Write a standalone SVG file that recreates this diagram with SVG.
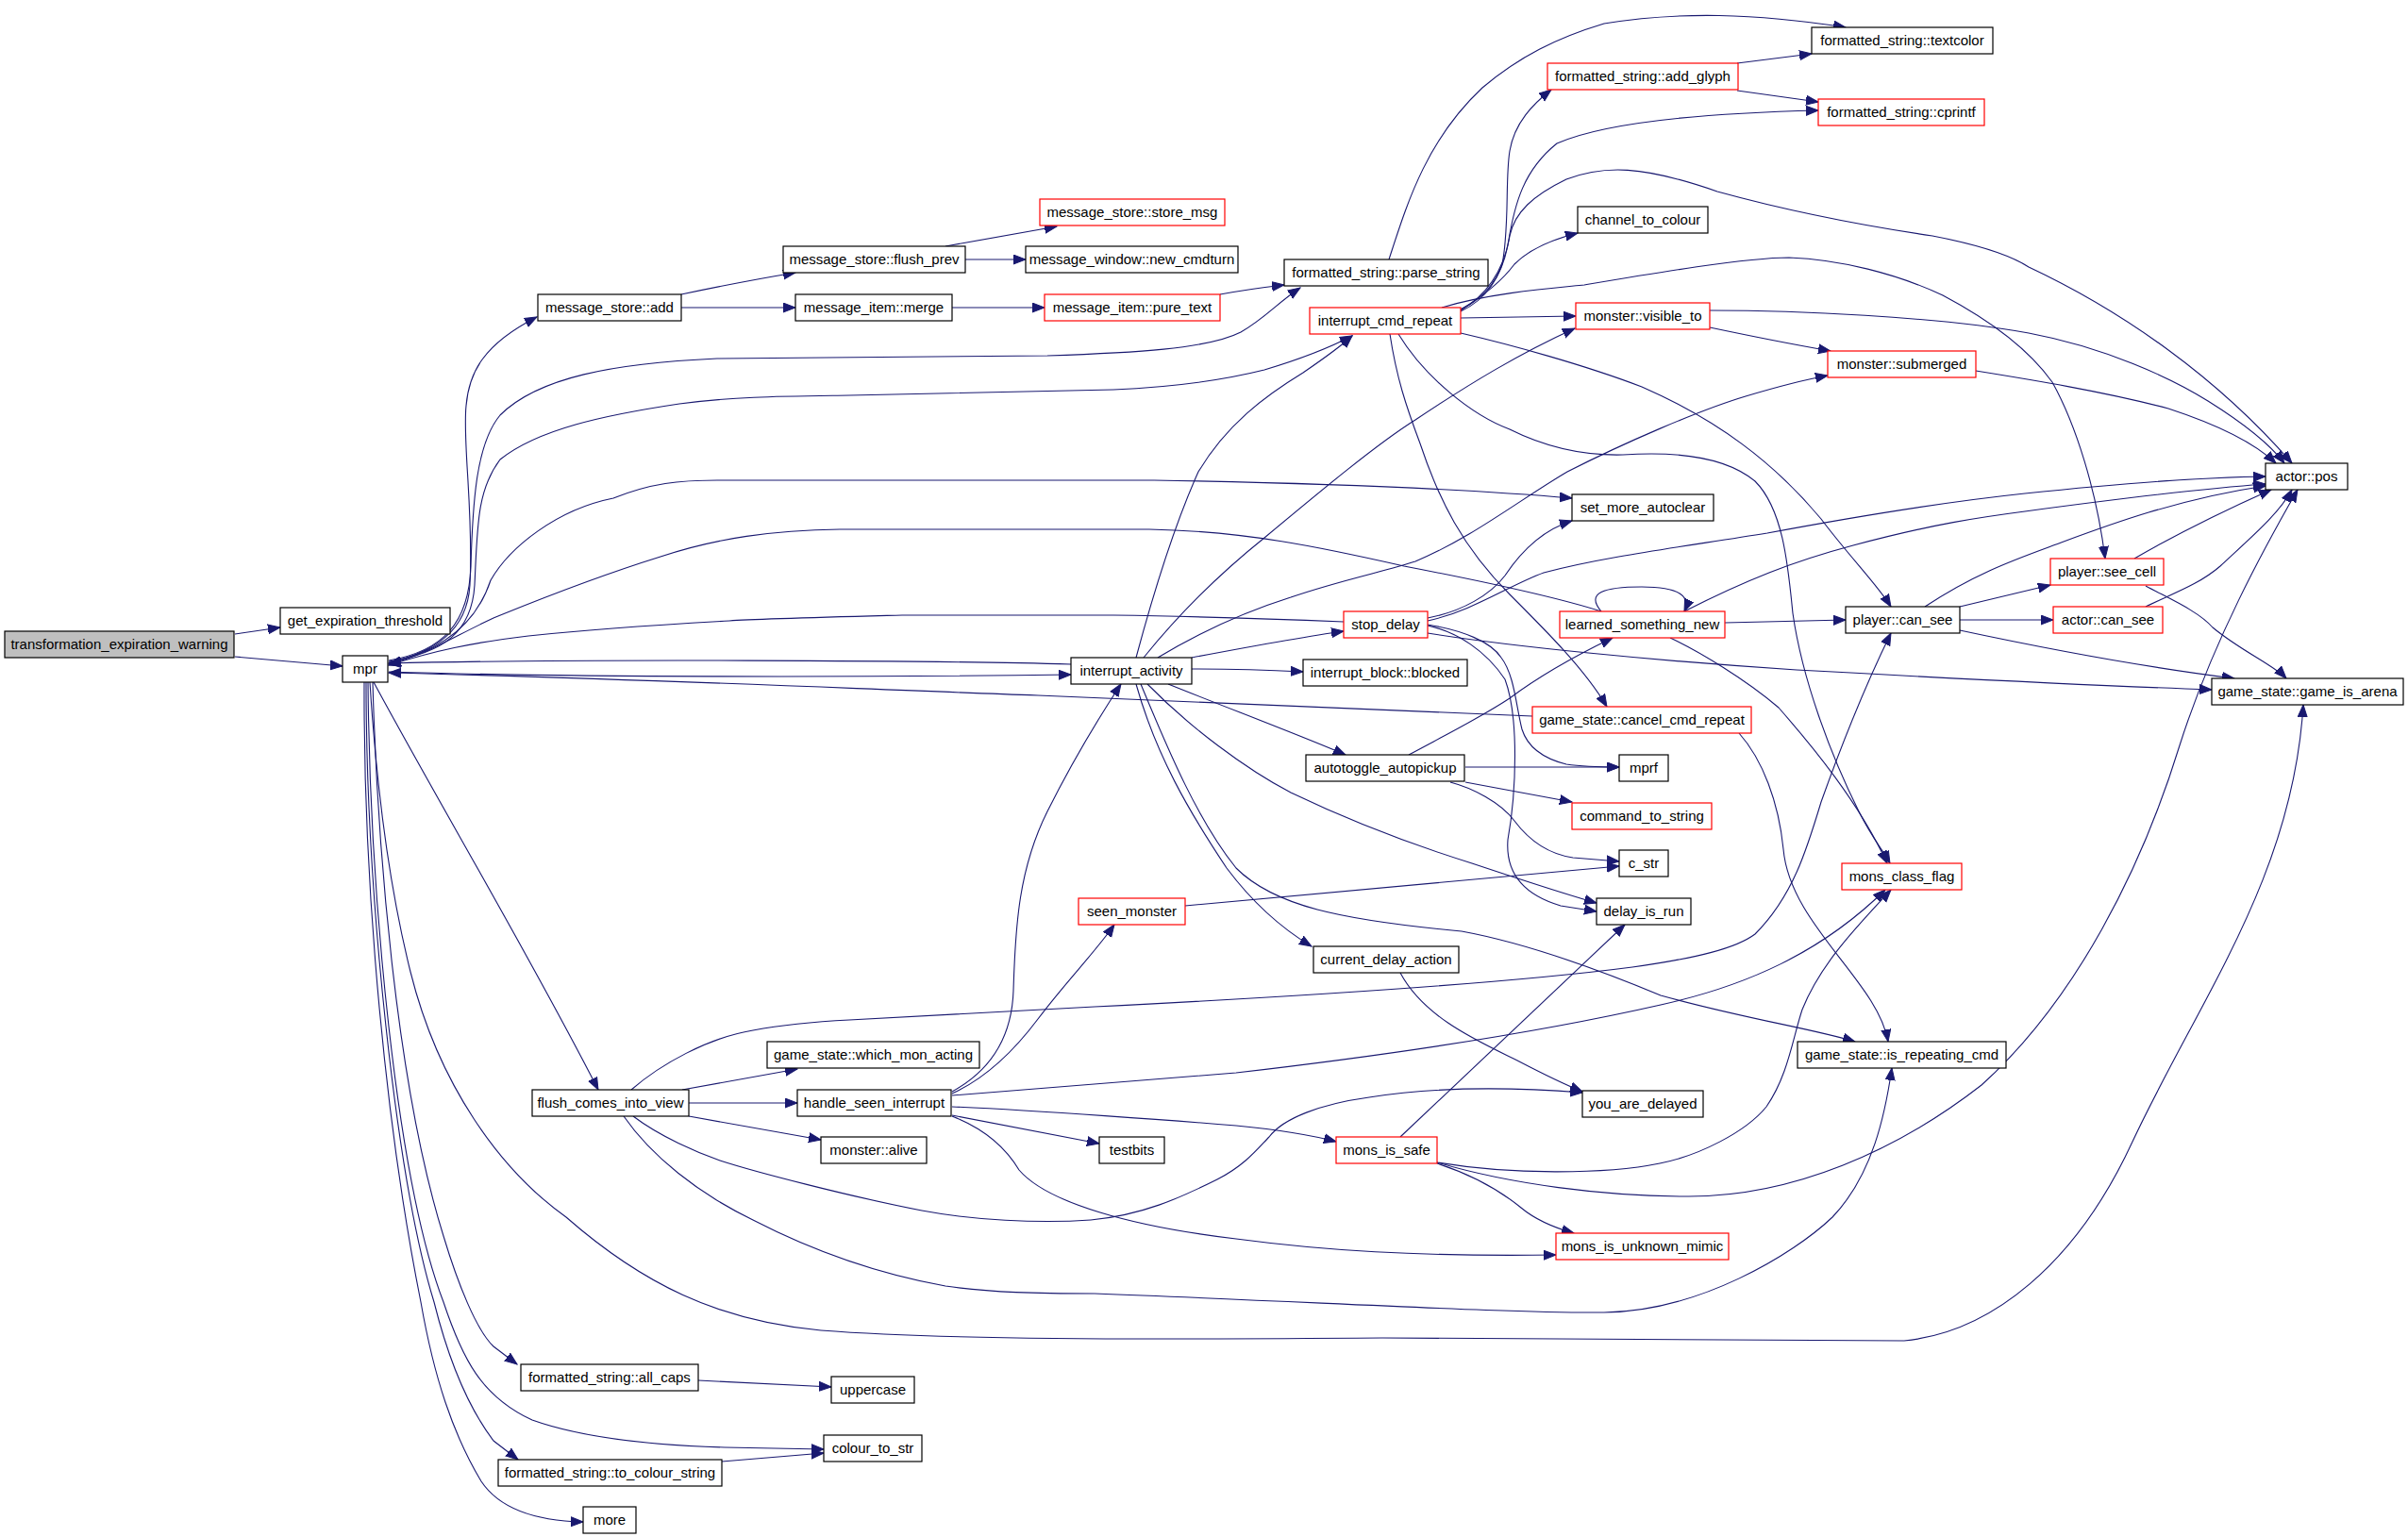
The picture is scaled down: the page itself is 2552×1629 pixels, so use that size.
<svg xmlns="http://www.w3.org/2000/svg" width="2552" height="1629" viewBox="0 0 2552 1629">
<style>
.n rect{fill:#fff;stroke:#000;stroke-width:1.2}
.r rect{fill:#fff;stroke:#ff0000;stroke-width:1.2}
.g rect{fill:#bfbfbf;stroke:#000;stroke-width:1.2}
text{font-family:"Liberation Sans",Arial,sans-serif;font-size:15px;fill:#000;text-anchor:middle}
#edges path{fill:none;stroke:#191970;stroke-width:1.1;marker-end:url(#a)}
</style>
<defs>
<marker id="a" markerUnits="userSpaceOnUse" markerWidth="15" markerHeight="12" refX="13" refY="5.5" orient="auto">
<path d="M0,0.5 L13,5.5 L0,10.5 z" fill="#191970" stroke="#191970" stroke-width="1"/>
</marker>
</defs>
<rect width="2552" height="1629" fill="#fff"/>
<g id="edges">
<path d="M249,672 L297,665"/>
<path d="M249,696 L363,706"/>
<path d="M412,703 C460,690 495,670 498,620 C502,540 490,470 494,430 C497,395 512,365 569,336"/>
<path d="M412,700 C470,690 497,660 499,600 C501,530 505,470 530,440 C570,400 650,385 760,380 L1110,377 C1200,374 1280,370 1315,352 C1340,338 1355,320 1378,305"/>
<path d="M412,701 C470,692 500,670 503,620 C506,560 505,520 530,487 C570,455 640,440 720,428 C780,420 830,420 900,419 L1180,413 C1250,410 1300,402 1340,392 C1380,380 1410,368 1433,356"/>
<path d="M412,702 C470,690 505,660 520,615 C540,580 590,540 650,528 C690,512 720,509 760,509 L1223,509 C1400,512 1550,518 1666,528"/>
<path d="M1697,648 C1640,630 1540,610 1488,600 C1400,580 1320,563 1218,561 L890,561 C820,562 760,570 700,590 C620,615 560,640 523,655 C480,675 450,695 412,704"/>
<path d="M1424,659 C1350,656 1250,653 1180,652 L956,652 C880,654 800,656 773,658 C700,662 615,668 560,674 C500,681 460,690 412,705"/>
<path d="M1135,704 C1000,700 600,698 412,703"/>
<path d="M412,712 C600,718 900,718 1135,715"/>
<path d="M1624,759 C1400,750 1200,740 1100,737 C900,730 700,720 412,713"/>
<path d="M396,723 C470,860 560,1010 634,1155"/>
<path d="M392,723 C400,850 415,950 435,1030 C465,1150 530,1240 600,1290 C680,1360 760,1400 870,1410 C1000,1420 1200,1420 1465,1418 L2018,1421 C2110,1412 2200,1340 2260,1210 C2330,1060 2430,930 2441,747"/>
<path d="M395,723 C400,900 420,1150 470,1310 C485,1360 505,1410 523,1427 L548,1446"/>
<path d="M390,723 C392,950 420,1250 470,1380 C490,1440 510,1480 564,1505 C620,1525 700,1532 768,1534 L873,1536"/>
<path d="M388,723 C388,950 420,1250 460,1380 C475,1440 495,1490 523,1527 L549,1547"/>
<path d="M386,723 C385,950 410,1200 446,1380 C460,1460 480,1520 510,1570 C530,1600 570,1612 618,1613"/>
<path d="M722,312 C760,304 800,296 843,289"/>
<path d="M722,326 L843,326"/>
<path d="M1009,326 L1107,326"/>
<path d="M1002,261 L1120,240"/>
<path d="M1023,275 L1087,275"/>
<path d="M1293,312 C1315,308 1335,305 1361,302"/>
<path d="M1472,275 C1490,220 1510,150 1571,93 C1610,60 1650,40 1700,25 C1780,12 1860,14 1956,29"/>
<path d="M1841,67 L1920,57"/>
<path d="M1841,96 L1927,108"/>
<path d="M1548,328 C1570,318 1585,300 1592,280 C1600,240 1595,190 1600,160 C1605,130 1625,110 1644,95"/>
<path d="M1548,330 C1570,320 1590,300 1598,260 C1605,215 1615,180 1650,152 C1700,130 1800,120 1927,117"/>
<path d="M1548,328 C1570,315 1590,300 1605,280 C1620,265 1640,255 1672,247"/>
<path d="M1548,329 C1580,310 1595,280 1600,250 C1605,225 1625,207 1660,190 C1700,175 1740,175 1820,203 C1900,225 1980,240 2048,250 C2100,260 2130,270 2150,283 C2250,330 2350,400 2429,491"/>
<path d="M1528,326 C1580,310 1650,305 1679,302 C1750,290 1850,273 1896,273 C1950,275 2010,290 2059,313 C2110,340 2150,370 2175,405 C2200,450 2222,520 2231,592"/>
<path d="M1548,337 L1670,335"/>
<path d="M1473,354 C1480,400 1490,430 1505,470 C1525,530 1550,580 1600,630 C1640,670 1680,710 1703,749"/>
<path d="M1482,354 C1510,400 1560,440 1600,455 C1640,475 1680,483 1720,482 C1780,478 1830,485 1860,510 C1890,540 1895,600 1900,650 C1910,720 1940,800 1970,860 C1985,890 1995,900 2003,915"/>
<path d="M1548,353 C1600,365 1680,387 1740,410 C1820,445 1880,490 1930,550 C1960,590 1990,620 2004,643"/>
<path d="M1812,347 C1850,355 1900,365 1940,372"/>
<path d="M1812,329 C1900,329 2050,335 2150,353 C2230,368 2300,400 2340,425 C2380,450 2405,470 2421,491"/>
<path d="M2094,393 C2150,402 2230,415 2298,433 C2350,450 2390,470 2412,491"/>
<path d="M1204,697 C1222,630 1243,560 1270,500 C1300,450 1340,420 1381,395 C1400,382 1420,368 1433,356"/>
<path d="M1212,697 C1250,650 1290,610 1340,570 C1400,520 1460,470 1500,445 C1560,405 1610,375 1669,348"/>
<path d="M1227,697 C1280,665 1330,645 1368,633 C1420,615 1470,605 1500,595 C1560,570 1610,530 1661,500 C1720,470 1800,435 1850,420 C1890,408 1915,402 1937,398"/>
<path d="M1263,697 C1300,690 1380,675 1424,669"/>
<path d="M1263,709 C1300,709 1340,710 1381,712"/>
<path d="M1238,725 C1300,750 1380,780 1426,800"/>
<path d="M1204,725 C1225,800 1260,860 1300,920 C1330,960 1360,985 1390,1003"/>
<path d="M1209,725 C1240,800 1270,870 1310,920 C1350,960 1420,975 1549,987 C1620,1000 1700,1030 1760,1055 C1850,1080 1920,1090 1966,1104"/>
<path d="M1216,725 C1260,770 1320,815 1368,840 C1420,865 1480,890 1560,915 C1620,935 1660,948 1692,957"/>
<path d="M1513,655 C1550,648 1580,630 1595,610 C1615,580 1640,560 1666,552"/>
<path d="M1513,658 C1560,648 1600,620 1636,607 C1700,590 1780,580 1873,565 C1980,545 2080,530 2146,523 C2250,512 2330,506 2401,505"/>
<path d="M1513,671 C1600,685 1750,700 1904,710 C2050,718 2200,726 2344,731"/>
<path d="M1513,662 C1550,668 1580,680 1591,697 C1605,715 1607,750 1613,773 C1620,795 1640,805 1660,810 C1680,813 1700,813 1716,813"/>
<path d="M1513,663 C1545,670 1575,690 1595,720 C1610,760 1607,840 1598,890 C1595,930 1620,950 1654,960 L1692,966"/>
<path d="M1697,648 C1680,628 1700,622 1740,622 C1780,622 1792,632 1785,648"/>
<path d="M1828,660 L1956,657"/>
<path d="M1785,648 C1850,615 1900,595 1964,578 C2050,555 2100,548 2146,542 C2250,528 2330,518 2401,513"/>
<path d="M1770,676 C1800,690 1850,720 1885,750 C1920,790 1970,850 2000,915"/>
<path d="M1493,800 C1530,780 1570,760 1600,740 C1640,710 1680,690 1709,676"/>
<path d="M1553,813 L1716,813"/>
<path d="M1553,829 L1666,850"/>
<path d="M1537,829 C1560,835 1590,850 1605,870 C1620,890 1640,905 1667,909 L1716,913"/>
<path d="M1843,777 C1868,805 1885,850 1890,900 C1897,980 1990,1040 2001,1104"/>
<path d="M2077,643 L2173,620"/>
<path d="M2077,657 L2176,657"/>
<path d="M2040,643 C2090,610 2130,595 2171,580 C2220,562 2300,530 2401,515"/>
<path d="M2077,668 C2180,690 2280,708 2368,719"/>
<path d="M2262,592 C2300,570 2360,540 2407,519"/>
<path d="M2274,621 C2300,635 2330,648 2345,665 C2375,690 2410,705 2423,719"/>
<path d="M2274,643 C2300,630 2330,620 2353,600 C2385,570 2415,545 2429,519"/>
<path d="M1523,1232 C1600,1255 1700,1268 1790,1268 C1900,1268 2010,1220 2100,1150 C2200,1060 2270,920 2310,790 C2345,680 2400,580 2435,519"/>
<path d="M1484,1205 L1722,980"/>
<path d="M1523,1232 C1600,1245 1700,1245 1759,1233 C1800,1225 1850,1200 1872,1173 C1895,1140 1900,1100 1910,1070 C1930,1020 1970,980 2004,943"/>
<path d="M1523,1233 C1560,1245 1590,1262 1612,1280 C1630,1295 1650,1302 1668,1307"/>
<path d="M1256,960 L1716,918"/>
<path d="M1484,1031 C1510,1080 1570,1105 1610,1125 C1635,1138 1655,1148 1677,1157"/>
<path d="M723,1155 L845,1133"/>
<path d="M730,1169 L845,1169"/>
<path d="M730,1183 L870,1208"/>
<path d="M669,1155 C700,1128 750,1100 798,1092 C830,1086 860,1083 900,1081 L1160,1067 C1400,1055 1600,1042 1730,1025 C1800,1015 1840,1005 1860,990 C1900,950 1915,900 1930,850 C1955,780 1980,720 2004,671"/>
<path d="M661,1183 C690,1225 740,1265 798,1293 C860,1325 930,1350 1002,1363 C1050,1370 1100,1371 1160,1371 C1400,1380 1600,1392 1700,1391 C1800,1390 1900,1330 1942,1290 C1985,1245 1998,1180 2005,1132"/>
<path d="M671,1183 C700,1205 740,1222 763,1230 C800,1242 900,1268 977,1283 C1030,1293 1100,1297 1156,1293 C1210,1288 1250,1270 1290,1250 C1320,1235 1335,1215 1345,1205 C1360,1185 1400,1170 1451,1163 C1520,1152 1600,1152 1677,1158"/>
<path d="M1009,1157 C1040,1140 1072,1110 1074,1050 C1076,980 1080,920 1110,860 C1140,800 1165,760 1188,725"/>
<path d="M1009,1159 C1040,1145 1070,1120 1100,1080 C1130,1040 1160,1010 1181,980"/>
<path d="M1009,1161 C1100,1153 1200,1146 1310,1137 C1500,1115 1650,1090 1760,1065 C1850,1045 1930,1010 1998,943"/>
<path d="M1009,1173 C1100,1177 1250,1188 1310,1193 C1350,1197 1390,1203 1416,1210"/>
<path d="M1009,1182 L1165,1212"/>
<path d="M1009,1183 C1040,1195 1065,1215 1080,1240 C1110,1275 1200,1300 1310,1313 C1400,1325 1500,1332 1649,1330"/>
<path d="M740,1463 L881,1470"/>
<path d="M765,1549 L873,1540"/>
</g>
<g id="n0" class="g"><rect x="5" y="669" width="243" height="28"/><text x="126.5" y="688">transformation_expiration_warning</text></g>
<g id="n1" class="n"><rect x="297" y="644" width="180" height="28"/><text x="387" y="663">get_expiration_threshold</text></g>
<g id="n2" class="n"><rect x="363" y="695" width="48" height="28"/><text x="387" y="714">mpr</text></g>
<g id="n3" class="n"><rect x="570" y="312" width="152" height="28"/><text x="646" y="331">message_store::add</text></g>
<g id="n4" class="n"><rect x="830" y="261" width="193" height="28"/><text x="926.5" y="280">message_store::flush_prev</text></g>
<g id="n5" class="r"><rect x="1102" y="211" width="196" height="28"/><text x="1200" y="230">message_store::store_msg</text></g>
<g id="n6" class="n"><rect x="1087" y="261" width="225" height="28"/><text x="1199.5" y="280">message_window::new_cmdturn</text></g>
<g id="n7" class="n"><rect x="843" y="312" width="166" height="28"/><text x="926" y="331">message_item::merge</text></g>
<g id="n8" class="r"><rect x="1107" y="312" width="186" height="28"/><text x="1200" y="331">message_item::pure_text</text></g>
<g id="n9" class="n"><rect x="1361" y="275" width="216" height="28"/><text x="1469" y="294">formatted_string::parse_string</text></g>
<g id="n10" class="n"><rect x="1920" y="29" width="192" height="28"/><text x="2016" y="48">formatted_string::textcolor</text></g>
<g id="n11" class="r"><rect x="1640" y="67" width="202" height="28"/><text x="1741" y="86">formatted_string::add_glyph</text></g>
<g id="n12" class="r"><rect x="1927" y="105" width="176" height="28"/><text x="2015" y="124">formatted_string::cprintf</text></g>
<g id="n13" class="n"><rect x="1672" y="219" width="138" height="28"/><text x="1741" y="238">channel_to_colour</text></g>
<g id="n14" class="r"><rect x="1388" y="326" width="160" height="28"/><text x="1468" y="345">interrupt_cmd_repeat</text></g>
<g id="n15" class="r"><rect x="1670" y="321" width="142" height="28"/><text x="1741" y="340">monster::visible_to</text></g>
<g id="n16" class="r"><rect x="1937" y="372" width="157" height="28"/><text x="2015.5" y="391">monster::submerged</text></g>
<g id="n17" class="n"><rect x="1666" y="524" width="150" height="28"/><text x="1741" y="543">set_more_autoclear</text></g>
<g id="n18" class="n"><rect x="2401" y="491" width="87" height="28"/><text x="2444.5" y="510">actor::pos</text></g>
<g id="n19" class="r"><rect x="2173" y="592" width="120" height="28"/><text x="2233" y="611">player::see_cell</text></g>
<g id="n20" class="r"><rect x="1653" y="648" width="175" height="28"/><text x="1740.5" y="667">learned_something_new</text></g>
<g id="n21" class="n"><rect x="1956" y="643" width="121" height="28"/><text x="2016.5" y="662">player::can_see</text></g>
<g id="n22" class="r"><rect x="2176" y="643" width="116" height="28"/><text x="2234" y="662">actor::can_see</text></g>
<g id="n23" class="n"><rect x="2344" y="719" width="203" height="28"/><text x="2445.5" y="738">game_state::game_is_arena</text></g>
<g id="n24" class="r"><rect x="1624" y="749" width="232" height="28"/><text x="1740" y="768">game_state::cancel_cmd_repeat</text></g>
<g id="n25" class="r"><rect x="1424" y="648" width="89" height="28"/><text x="1468.5" y="667">stop_delay</text></g>
<g id="n26" class="n"><rect x="1135" y="697" width="128" height="28"/><text x="1199" y="716">interrupt_activity</text></g>
<g id="n27" class="n"><rect x="1381" y="699" width="174" height="28"/><text x="1468" y="718">interrupt_block::blocked</text></g>
<g id="n28" class="n"><rect x="1384" y="800" width="168" height="28"/><text x="1468" y="819">autotoggle_autopickup</text></g>
<g id="n29" class="n"><rect x="1716" y="800" width="52" height="28"/><text x="1742" y="819">mprf</text></g>
<g id="n30" class="r"><rect x="1666" y="851" width="148" height="28"/><text x="1740" y="870">command_to_string</text></g>
<g id="n31" class="n"><rect x="1716" y="901" width="52" height="28"/><text x="1742" y="920">c_str</text></g>
<g id="n32" class="n"><rect x="1692" y="952" width="100" height="28"/><text x="1742" y="971">delay_is_run</text></g>
<g id="n33" class="r"><rect x="1143" y="952" width="113" height="28"/><text x="1199.5" y="971">seen_monster</text></g>
<g id="n34" class="r"><rect x="1952" y="915" width="127" height="28"/><text x="2015.5" y="934">mons_class_flag</text></g>
<g id="n35" class="n"><rect x="1392" y="1003" width="154" height="28"/><text x="1469" y="1022">current_delay_action</text></g>
<g id="n36" class="n"><rect x="1905" y="1104" width="221" height="28"/><text x="2015.5" y="1123">game_state::is_repeating_cmd</text></g>
<g id="n37" class="n"><rect x="1677" y="1156" width="128" height="28"/><text x="1741" y="1175">you_are_delayed</text></g>
<g id="n38" class="n"><rect x="1165" y="1205" width="69" height="28"/><text x="1199.5" y="1224">testbits</text></g>
<g id="n39" class="r"><rect x="1416" y="1205" width="107" height="28"/><text x="1469.5" y="1224">mons_is_safe</text></g>
<g id="n40" class="r"><rect x="1649" y="1307" width="183" height="28"/><text x="1740.5" y="1326">mons_is_unknown_mimic</text></g>
<g id="n41" class="n"><rect x="564" y="1155" width="166" height="28"/><text x="647" y="1174">flush_comes_into_view</text></g>
<g id="n42" class="n"><rect x="813" y="1104" width="225" height="28"/><text x="925.5" y="1123">game_state::which_mon_acting</text></g>
<g id="n43" class="n"><rect x="845" y="1155" width="163" height="28"/><text x="926.5" y="1174">handle_seen_interrupt</text></g>
<g id="n44" class="n"><rect x="870" y="1205" width="112" height="28"/><text x="926" y="1224">monster::alive</text></g>
<g id="n45" class="n"><rect x="552" y="1446" width="188" height="28"/><text x="646" y="1465">formatted_string::all_caps</text></g>
<g id="n46" class="n"><rect x="881" y="1459" width="88" height="28"/><text x="925" y="1478">uppercase</text></g>
<g id="n47" class="n"><rect x="873" y="1521" width="104" height="28"/><text x="925" y="1540">colour_to_str</text></g>
<g id="n48" class="n"><rect x="528" y="1547" width="237" height="28"/><text x="646.5" y="1566">formatted_string::to_colour_string</text></g>
<g id="n49" class="n"><rect x="618" y="1597" width="56" height="28"/><text x="646" y="1616">more</text></g>
</svg>
